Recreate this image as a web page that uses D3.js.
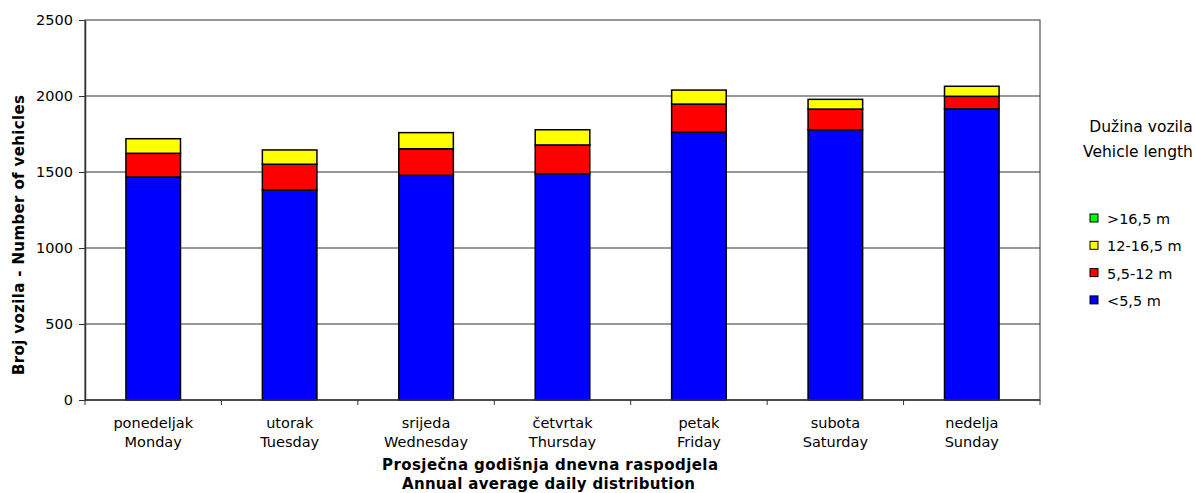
<!DOCTYPE html>
<html><head><meta charset="utf-8">
<script src="https://cdn.jsdelivr.net/npm/d3@7"></script>
<style>body{margin:0;background:#fff;} text{font-family:"DejaVu Sans",sans-serif;}</style>
</head><body><svg id="c" width="1195" height="493"></svg>
<script>
const daysLocal = ["ponedeljak","utorak","srijeda","četvrtak","petak","subota","nedelja"];
const daysEn = ["Monday","Tuesday","Wednesday","Thursday","Friday","Saturday","Sunday"];
const under55 = [1467,1382,1478,1489,1761,1778,1916];
const from55to12 = [156,169,175,189,186,136,82];
const from12to165 = [96,94,106,100,92,64,66];
const over165 = [0,0,0,0,0,0,0];
const seriesNames = ["<5,5 m","5,5-12 m","12-16,5 m",">16,5 m"];
const seriesColors = ["#0000ff","#ff0000","#ffff00","#00ff00"];
const yTicks = [0,500,1000,1500,2000,2500];

const svg = d3.select("#c");
const L=85,R=1040,T=20,B=400;
const x = d3.scaleBand().domain(daysEn).range([L,R]).paddingInner(0.6).paddingOuter(0.3);
const xb = d3.scaleBand().domain(daysEn).range([L,R]);
const y = d3.scaleLinear().domain([0,2500]).range([B,T]);

const rows = daysEn.map((d,i)=>({day:d,s0:under55[i],s1:from55to12[i],s2:from12to165[i],s3:over165[i]}));
const stack = d3.stack().keys(["s0","s1","s2","s3"])(rows);

svg.append("g").selectAll("line").data(yTicks.filter(t=>t>0&&t<2500)).join("line")
  .attr("x1",L).attr("x2",R).attr("y1",d=>y(d)).attr("y2",d=>y(d))
  .attr("stroke","#333").attr("stroke-width",1);
svg.append("rect").attr("x",L).attr("y",T).attr("width",R-L).attr("height",B-T)
  .attr("fill","none").attr("stroke","#333").attr("stroke-width",1);

const gBars = svg.append("g");
stack.forEach((s,k)=>{
  gBars.selectAll(null).data(s.filter(d=>d[1]-d[0]>0)).join("rect")
    .attr("x",d=>x(d.data.day)).attr("width",x.bandwidth())
    .attr("y",d=>y(d[1])).attr("height",d=>y(d[0])-y(d[1]))
    .attr("fill",seriesColors[k]).attr("stroke","#000").attr("stroke-width",1.5);
});

const ya = svg.append("g").attr("transform",`translate(${L},0)`)
  .call(d3.axisLeft(y).tickValues(yTicks).tickSize(6).tickSizeOuter(0).tickFormat(d3.format("d")));
ya.select(".domain").attr("stroke","#333").attr("stroke-width",1.5);
ya.selectAll("line").attr("stroke","#333");
ya.selectAll("text").attr("font-size",14.5).attr("fill","#000").attr("x",-12)
  .style("font-family","'DejaVu Sans',sans-serif");

svg.append("line").attr("x1",L).attr("x2",R).attr("y1",B).attr("y2",B).attr("stroke","#333").attr("stroke-width",1.5);
const bounds = daysEn.map(d=>xb(d)).concat([R]);
svg.append("g").selectAll("line").data(bounds).join("line")
  .attr("x1",d=>d).attr("x2",d=>d).attr("y1",B).attr("y2",B+5).attr("stroke","#333");
const xl = svg.append("g").selectAll("text").data(daysEn).join("text")
  .attr("x",d=>xb(d)+xb.bandwidth()/2).attr("text-anchor","middle").attr("font-size",14.5);
xl.append("tspan").attr("x",d=>xb(d)+xb.bandwidth()/2).attr("y",428).text((d,i)=>daysLocal[i]);
xl.append("tspan").attr("x",d=>xb(d)+xb.bandwidth()/2).attr("y",447).text(d=>d);

svg.append("text").attr("x",550).attr("y",470).attr("text-anchor","middle")
  .attr("font-size",15).attr("font-weight","bold").attr("textLength",336).attr("lengthAdjust","spacing")
  .text("Prosječna godišnja dnevna raspodjela");
svg.append("text").attr("x",548.5).attr("y",489).attr("text-anchor","middle")
  .attr("font-size",15).attr("font-weight","bold").attr("textLength",293).attr("lengthAdjust","spacing")
  .text("Annual average daily distribution");
svg.append("text").attr("transform",`translate(24,235) rotate(-90)`).attr("text-anchor","middle")
  .attr("font-size",15).attr("font-weight","bold").attr("textLength",280).attr("lengthAdjust","spacing")
  .text("Broj vozila - Number of vehicles");

svg.append("text").attr("x",1141).attr("y",132).attr("text-anchor","middle").attr("font-size",15.5).text("Dužina vozila");
svg.append("text").attr("x",1138).attr("y",157).attr("text-anchor","middle").attr("font-size",15.5).text("Vehicle length");
const legOrder = [3,2,1,0];
const lg = svg.append("g").selectAll("g").data(legOrder).join("g")
  .attr("transform",(d,i)=>`translate(1090,${214+i*27.3})`);
lg.append("rect").attr("width",8).attr("height",8).attr("fill",d=>seriesColors[d]).attr("stroke","#000").attr("stroke-width",1);
lg.append("text").attr("x",17).attr("y",10).attr("font-size",14.5).text(d=>seriesNames[d]);
</script></body></html>
